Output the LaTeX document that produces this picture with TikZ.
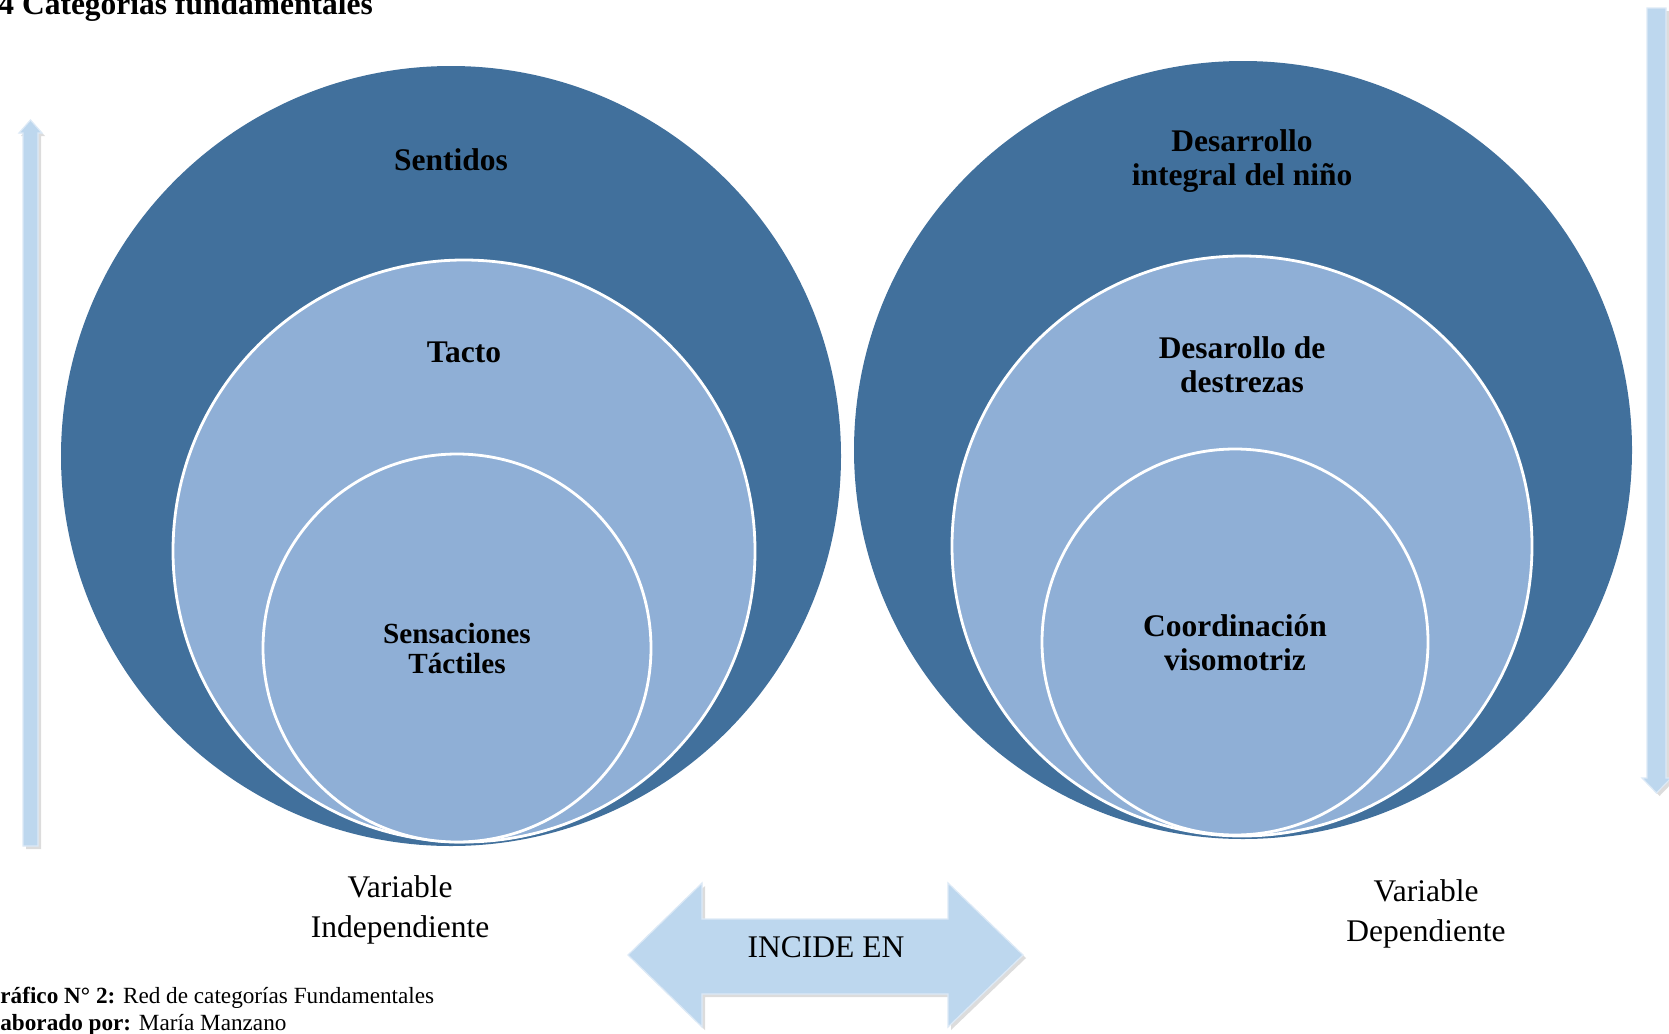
\documentclass[tikz,border=0pt]{standalone}
\usepackage{fontspec}
\setmainfont{Liberation Serif}
\definecolor{darkb}{HTML}{41709C}
\definecolor{lightb}{HTML}{8FAFD6}
\definecolor{arrowb}{HTML}{BDD7EE}
\definecolor{arrowedge}{HTML}{DCE9F6}
\begin{document}
\begin{tikzpicture}[x=0.5pt,y=-0.5pt,
  bigcirc/.style={circle,fill=darkb,inner sep=0,minimum size=#1},
  ringcirc/.style={circle,fill=lightb,draw=white,line width=1.4pt,inner sep=0,minimum size=#1},
  lbl/.style={font=\fontsize{15.75}{17}\selectfont\bfseries,align=center,inner sep=0},
  vlbl/.style={font=\fontsize{15.75}{20.3}\selectfont,align=center,inner sep=0},
  captext/.style={font=\fontsize{11.6}{14}\selectfont,anchor=base west,inner sep=0},
  arrowfill/.style={fill=arrowb,draw=arrowedge,line width=0.6pt},
  arrowshadow/.style={fill=black!30,opacity=0.45}
]
\useasboundingbox (0,0) rectangle (1669,1033);
\clip (0,0) rectangle (1669,1033);

% title
\node[anchor=base west,inner sep=0,font=\fontsize{15.75}{17}\selectfont\bfseries] (title) at (-2,14) {4 Categorías fundamentales};

% left circles
\node[bigcirc=390pt] (L1) at (451,456) {};
\node[ringcirc=291pt] (L2) at (464,551) {};
\node[ringcirc=194pt] (L3) at (457,648) {};
\node[lbl] (t1) at (451,160) {Sentidos};
\node[lbl] (t2) at (464,352) {Tacto};
\node[lbl,font=\fontsize{14.6}{15}\selectfont\bfseries] (t3) at (457,649) {Sensaciones\\Táctiles};

% right circles
\node[bigcirc=389pt] (R1) at (1243,450) {};
\node[ringcirc=290pt] (R2) at (1242,546) {};
\node[ringcirc=193pt] (R3) at (1235,642) {};
\node[lbl] (u1) at (1242,161) {Desarrollo\\integral del niño};
\node[lbl] (u2) at (1242,365) {Desarollo de\\destrezas};
\node[lbl] (u3) at (1235,643) {Coordinación\\visomotriz};

% left vertical arrow (up)
\fill[arrowshadow] (26,136) -- (26,849) -- (41,849) -- (41,136) -- (45,136) -- (33,123) -- (21,136) -- cycle;
\filldraw[arrowfill] (23,133) -- (23,846) -- (38,846) -- (38,133) -- (42,133) -- (30.5,120) -- (19,133) -- cycle;

% right vertical arrow (down)
\fill[arrowshadow] (1650,11) -- (1650,781) -- (1645,781) -- (1659.5,796) -- (1674,781) -- (1669,781) -- (1669,11) -- cycle;
\filldraw[arrowfill] (1647,8) -- (1647,778) -- (1642,778) -- (1656.5,793) -- (1671,778) -- (1666,778) -- (1666,8) -- cycle;

% double arrow
\fill[arrowshadow] (631,958) -- (705,886) -- (705,922) -- (951,922) -- (951,886) -- (1026,958) -- (951,1030) -- (951,997) -- (705,997) -- (705,1030) -- cycle;
\filldraw[arrowfill] (628,955) -- (702,883) -- (702,919) -- (948,919) -- (948,883) -- (1023,955) -- (948,1027) -- (948,994) -- (702,994) -- (702,1027) -- cycle;
\node[inner sep=0,font=\fontsize{15.75}{17}\selectfont] (inc) at (826,947) {INCIDE EN};

% variable labels
\node[vlbl] (vi) at (400,910) {Variable\\Independiente};
\node[vlbl] (vd) at (1426,914) {Variable\\Dependiente};

% captions
\node[captext] (c1) at (0,1003) {\textbf{ráfico N° 2:} Red de categorías Fundamentales};
\node[captext] (c2) at (0,1030) {\textbf{aborado por:} María Manzano};
\end{tikzpicture}
\end{document}
